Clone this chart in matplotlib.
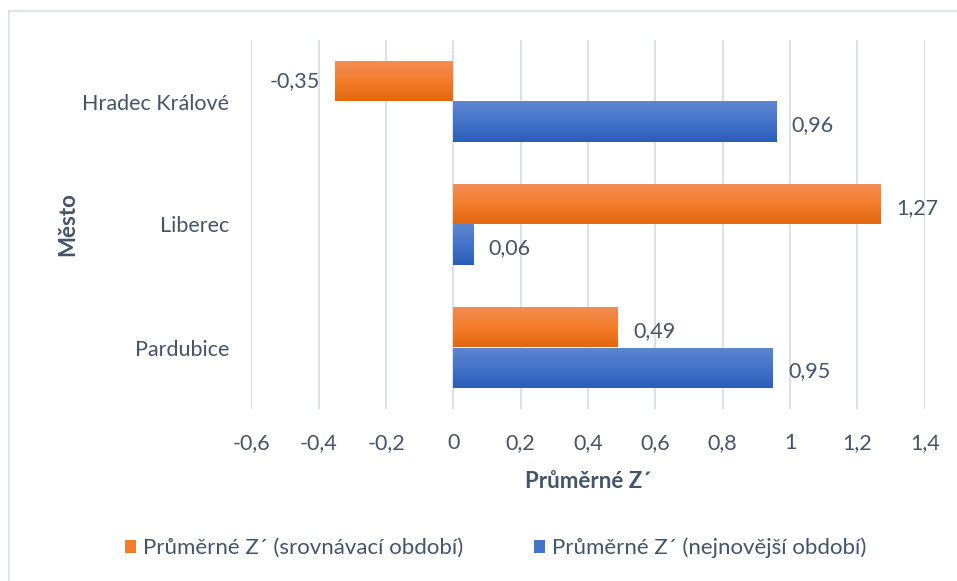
import numpy as np
import matplotlib.pyplot as plt
from matplotlib.colors import LinearSegmentedColormap
from matplotlib.patches import Patch

plt.rcParams['font.family'] = ['Lato', 'DejaVu Sans']

cities = ["Hradec Králové", "Liberec", "Pardubice"]
z_srovnavaci = [-0.35, 1.27, 0.49]
z_nejnovejsi = [0.96, 0.06, 0.95]
series_names = ["Průměrné Z´ (srovnávací období)", "Průměrné Z´ (nejnovější období)"]
x_ticks = [-0.6, -0.4, -0.2, 0, 0.2, 0.4, 0.6, 0.8, 1, 1.2, 1.4]

text_col = "#44546A"
grid_col = "#D9DEE6"
orange_grad = ["#F08E57", "#F47D2C", "#E2680F"]
blue_grad = ["#5E87CE", "#4473CA", "#2C5DB6"]
fs = 15.5

fig = plt.figure(figsize=(9.57, 5.81), dpi=100)
W, H = 957, 581
ax = fig.add_axes([251.3 / W, 1 - 409 / H, (924.7 - 251.3) / W, (409 - 40) / H])

# light outer frame (top and left visible, rest cropped)
fig.add_artist(plt.Line2D([8.5 / W, 1.0], [1 - 10.5 / H, 1 - 10.5 / H],
                          color=grid_col, lw=1.2, transform=fig.transFigure))
fig.add_artist(plt.Line2D([8.5 / W, 8.5 / W], [0.0, 1 - 10.5 / H],
                          color=grid_col, lw=1.2, transform=fig.transFigure))

ypos = np.arange(len(cities))[::-1]
h = 0.33


def gradient_bars(bars, colors):
    cmap = LinearSegmentedColormap.from_list("g", colors)
    grad = np.linspace(0, 1, 64).reshape(-1, 1)
    for b in bars:
        x0, y0 = b.get_x(), b.get_y()
        w, hh = b.get_width(), b.get_height()
        b.set_facecolor("none")
        im = ax.imshow(grad, cmap=cmap, aspect="auto", zorder=3,
                       extent=[x0, x0 + w, y0, y0 + hh], interpolation="bicubic")
        im.set_clip_path(b)


b1 = ax.barh(ypos + h / 2, z_srovnavaci, height=h, color=orange_grad[1], zorder=3, lw=0)
b2 = ax.barh(ypos - h / 2, z_nejnovejsi, height=h, color=blue_grad[1], zorder=3, lw=0)
gradient_bars(b1, orange_grad)
gradient_bars(b2, blue_grad)

for y, v in zip(ypos + h / 2, z_srovnavaci):
    lab = f"{v:.2f}".replace(".", ",")
    if v < 0:
        ax.text(v - 0.045, y + 0.0, lab, ha="right", va="center", fontsize=fs, color=text_col, zorder=4)
    else:
        ax.text(v + 0.045, y - 0.03, lab, ha="left", va="center", fontsize=fs, color=text_col, zorder=4)
for y, v in zip(ypos - h / 2, z_nejnovejsi):
    lab = f"{v:.2f}".replace(".", ",")
    ax.text(v + 0.045, y - 0.03, lab, ha="left", va="center", fontsize=fs, color=text_col, zorder=4)

ax.set_xlim(-0.6, 1.4)
ax.set_ylim(-0.5, 2.5)
ax.set_xticks(x_ticks)
ax.set_xticklabels([f"{t:g}".replace(".", ",") for t in x_ticks])
ax.set_yticks(ypos)
ax.set_yticklabels(cities)
ax.tick_params(axis="both", length=0, labelsize=fs, colors=text_col)
ax.tick_params(axis="x", pad=17)
ax.tick_params(axis="y", pad=16)
ax.grid(axis="x", color=grid_col, lw=1.3, zorder=0)
ax.set_axisbelow(True)
for s in ax.spines.values():
    s.set_visible(False)

ax.set_xlabel("Průměrné Z´", fontsize=fs + 0.5, fontweight="bold", color=text_col, labelpad=13)
ax.set_ylabel("Město", fontsize=fs + 0.5, fontweight="bold", color=text_col, labelpad=3)

handles = [Patch(facecolor=orange_grad[1], edgecolor="none"),
           Patch(facecolor=blue_grad[1], edgecolor="none")]
fig.legend(handles, series_names, loc="center", bbox_to_anchor=(0.518, 1 - 548 / H),
           ncol=2, frameon=False, fontsize=fs + 0.5, labelcolor=text_col,
           handlelength=0.5, handleheight=0.5, handletextpad=0.3, columnspacing=3.2)

fig.savefig("out.png", dpi=100)
